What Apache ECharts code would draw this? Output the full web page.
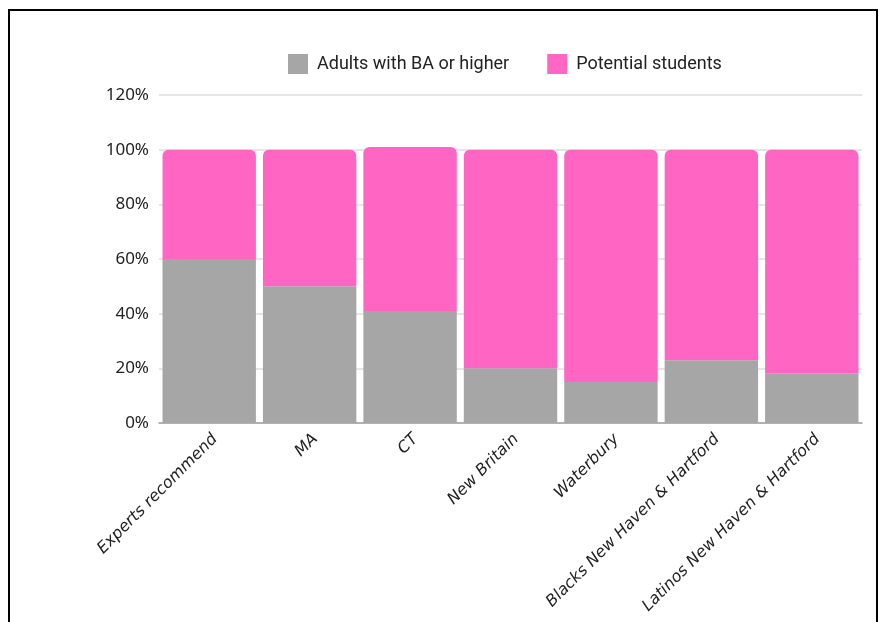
<!DOCTYPE html>
<html>
<head>
<meta charset="utf-8">
<script src="https://cdn.jsdelivr.net/npm/echarts@6/dist/echarts.min.js"></script>
<style>
html,body{margin:0;padding:0;background:#fff;}
#chart{width:879px;height:622px;}
</style>
</head>
<body>
<div id="chart"></div>
<script>
const categories = ["Experts recommend","MA","CT","New Britain","Waterbury","Blacks New Haven & Hartford","Latinos New Haven & Hartford"];
const adultsBA = [60,50,41,20,15,23,18];
const potential = [40,50,60,80,85,77,82];
const yTicks = [0,20,40,60,80,100,120];

const chart = echarts.init(document.getElementById('chart'));
chart.setOption({
  animation:false,
  graphic:[{type:'rect',shape:{x:9,y:10,width:868,height:640},style:{fill:'none',stroke:'#000',lineWidth:2},silent:true,z:100}],
  legend:{
    top:49, left:283, itemWidth:20, itemHeight:20, itemGap:38, icon:'rect',
    textStyle:{fontFamily:'Roboto, sans-serif',fontSize:18,color:'#222',padding:[0,0,0,4]},
    data:['Adults with BA or higher','Potential students']
  },
  grid:{left:159,right:17,top:95,bottom:199,containLabel:false,outerBoundsMode:'none'},
  xAxis:{
    type:'category', data:categories,
    axisLine:{lineStyle:{color:'#a0a0a0',width:1.5}},
    axisTick:{show:false},
    axisLabel:{rotate:45,interval:0,fontSize:16,fontStyle:'italic',color:'#222',fontFamily:'DejaVu Sans, sans-serif',margin:8,verticalAlign:'top'}
  },
  yAxis:{
    type:'value', min:0, max:120, interval:20,
    axisLabel:{formatter:v=>v+'%',fontSize:17,color:'#222',fontFamily:'Noto Sans, sans-serif',margin:10},
    splitLine:{lineStyle:{color:'#dcdcdc',width:1.5}},
    axisLine:{show:false}, axisTick:{show:false}
  },
  series:[
    {name:'Adults with BA or higher',type:'bar',stack:'a',data:adultsBA,barCategoryGap:'7%',itemStyle:{color:'#a6a6a6'}},
    {name:'Potential students',type:'bar',stack:'a',data:potential,barCategoryGap:'7%',itemStyle:{color:'#ff66c4',borderRadius:[6,6,0,0]}}
  ]
});
</script>
</body>
</html>
